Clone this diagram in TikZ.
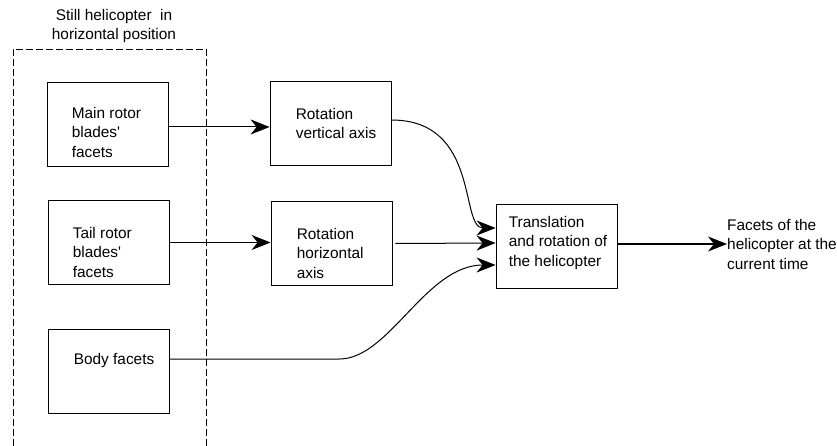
\documentclass[tikz,border=0pt]{standalone}
\usepackage{fontspec}
\setmainfont{Liberation Sans}
\usepackage{tikz}
\usetikzlibrary{positioning,arrows.meta}

\begin{document}
\begin{tikzpicture}[
                    x = 1pt, y = -1pt,
                    every node/.append style = {font = \fontsize{15.4}{19.5}\selectfont},
                    blk/.style = {draw, line width = 0.8pt, minimum width = 121pt, minimum height = 84pt, inner sep = 0pt},
                    txt/.style = {anchor = west, align = left, inner sep = 0pt},
                    arr/.style = {line width = 1pt, -{Stealth[length = 19pt, width = 15pt, inset = 6pt]}}]
                \useasboundingbox (0,0) rectangle (837,446);
                % frame round the source facets, open at the bottom
                \draw[line width = 0.8pt, dash pattern = on 7pt off 3pt] (13,446) -- (13,49) -- (206,49) -- (206,446);
                \node[align = center, inner sep = 0pt] (ntitle) at (114,26) {Still helicopter \ in\\horizontal position};
                % boxes
                \node[blk] (nmain)  at (107.5,124) {};
                \node[blk] (ntail)  at (108.5,242.5) {};
                \node[blk] (nbody)  at (108.5,371) {};
                \node[blk] (nrotv)  at (330.5,123.5) {};
                \node[blk] (nroth)  at (331.5,243.5) {};
                \node[blk] (ntrans) at (556.5,246) {};
                \node[txt] (nmaintxt)  at ([xshift = 25pt, yshift = -8pt]nmain.west) {Main rotor\\blades\textquotesingle\\facets};
                \node[txt] (ntailtxt)  at ([xshift = 25pt, yshift = -9.5pt]ntail.west) {Tail rotor\\blades\textquotesingle\\facets};
                \node[txt] (nbodytxt)  at ([xshift = 26pt, yshift = 10pt]nbody.west) {Body facets};
                \node[txt] (nrotvtxt)  at ([xshift = 26pt]nrotv.west) {Rotation\\vertical axis};
                \node[txt] (nrothtxt)  at ([xshift = 26pt, yshift = -9.5pt]nroth.west) {Rotation\\horizontal\\axis};
                \node[txt] (ntranstxt) at ([xshift = 13pt, yshift = 3pt]ntrans.west) {Translation\\and rotation of\\the helicopter};
                \node[txt] (nout) at (727,244) {Facets of the\\helicopter at the\\current time};
                % connectors
                \draw[arr] ([yshift = -3pt]nmain.east) -- ([yshift = -3pt]nmain.east -| nrotv.west);
                \draw[arr] (ntail.east) -- (ntail.east -| nroth.west);
                \draw[arr] ([yshift = 3.5pt]nrotv.east) to[out = 0, in = 180, out distance = 89pt, in distance = 36pt] ([yshift = 18pt]ntrans.west);
                \draw[arr] ([xshift = 3pt]nroth.east) -- ([yshift = 3pt]ntrans.west);
                \draw[arr] ([yshift = 12pt]nbody.east) -- ++(170,0) to[out = 0, in = 180, out distance = 50pt, in distance = 70pt] ([yshift = -19pt]ntrans.west);
                \draw[arr] (ntrans.east |- nout.west) -- (nout.west);
\end{tikzpicture}
\end{document}
